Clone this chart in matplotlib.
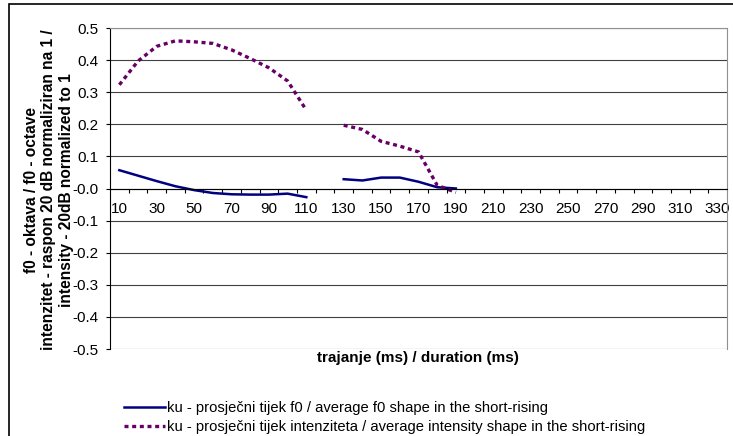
import numpy as np
import matplotlib.pyplot as plt
from matplotlib.patches import Rectangle

plt.rcParams['font.family'] = ['Liberation Sans', 'DejaVu Sans']

# duration categories (ms)
durations = list(range(10, 340, 10))
# f0 shape (octaves), gap at 120 ms, ends at 190 ms
f0_vals = [0.057, 0.040, 0.023, 0.007, -0.005, -0.014, -0.018, -0.019, -0.019, -0.016, -0.027,
           np.nan, 0.029, 0.025, 0.034, 0.034, 0.021, 0.004, 0.0]
# intensity shape (normalized), gap at 120 ms
int_vals = [0.323, 0.397, 0.443, 0.460, 0.457, 0.452, 0.432, 0.405, 0.376, 0.335, 0.244,
            np.nan, 0.197, 0.184, 0.147, 0.132, 0.114, 0.010, -0.012]

f0_label = 'ku - prosječni tijek f0 / average f0 shape in the short-rising'
int_label = 'ku - prosječni tijek intenziteta / average intensity shape in the short-rising'

fig = plt.figure(figsize=(7.33, 4.36), dpi=100)
ax = fig.add_axes([110/733, 1 - 349/436, 617/733, 321/436])

x = np.arange(len(durations))
l1, = ax.plot(x[:len(f0_vals)], f0_vals, color='#000080', lw=1.8, label=f0_label)
l2, = ax.plot(x[:len(int_vals)], int_vals, color='#660066', lw=2.4,
              linestyle=(0, (1.2, 1.1)), label=int_label)

ax.set_xlim(-0.5, len(durations) - 0.5)
ax.set_ylim(-0.5, 0.5)

# y axis
yt = np.round(np.arange(-0.5, 0.51, 0.1), 1)
ax.set_yticks(yt)
ax.set_yticklabels(['%.1f' % v for v in yt], fontsize=11)
ax.tick_params(axis='y', length=3, width=0.8, pad=5)
ax.yaxis.grid(True, color='#404040', lw=0.8)
ax.set_axisbelow(True)

# x axis at zero, ticks between categories, labels every 2nd category
ax.spines['bottom'].set_position(('data', 0))
ax.set_xticks(x[:-1] + 0.5)
ax.set_xticklabels([])
ax.tick_params(axis='x', which='major', length=3, width=0.8, direction='out')
ax.set_xticks(x[::2], minor=True)
ax.set_xticklabels([str(d) for d in durations[::2]], minor=True, fontsize=11)
ax.tick_params(axis='x', which='minor', length=0, pad=10)

for s in ['top', 'right']:
    ax.spines[s].set_color('#909090')
ax.spines['left'].set_color('black')
ax.spines['bottom'].set_color('black')

fig.text(418/733, 1 - 358/436, 'trajanje (ms) / duration (ms)', ha='center', va='center',
         fontsize=11, fontweight='bold')
fig.text(49/733, 1 - 190/436,
         'f0 - oktava / f0 - octave\nintenzitet - raspon 20 dB normaliziran na 1 /\nintensity - 20dB normalized to 1',
         rotation=90, ha='center', va='center', multialignment='center',
         fontsize=11.2, fontweight='bold')

fig.legend(handles=[l1, l2], loc='upper left', bbox_to_anchor=(117/733, 1 - 394/436),
           frameon=False, fontsize=10.6, handlelength=2.75, handletextpad=0.13,
           borderpad=0, labelspacing=0.3)

# outer chart border
fig.patches.append(Rectangle((9/733, -0.5), 2, 1.5 - 4/436, transform=fig.transFigure,
                             fill=False, edgecolor='black', lw=1.2))

fig.savefig('out.png', dpi=100)
